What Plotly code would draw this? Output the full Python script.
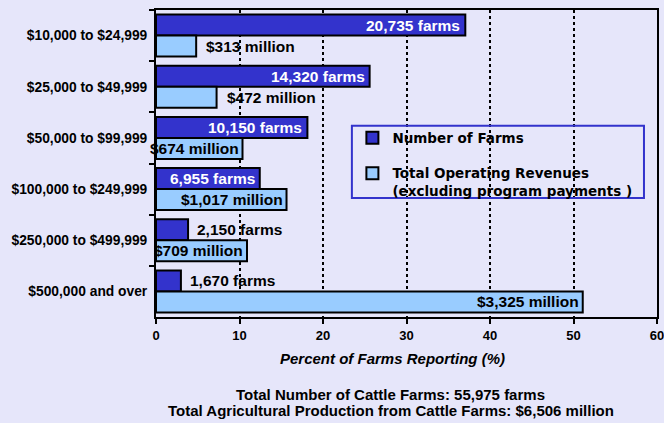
import plotly.graph_objects as go

# Cattle farms by sales class
categories = ["$10,000 to $24,999", "$25,000 to $49,999", "$50,000 to $99,999",
              "$100,000 to $249,999", "$250,000 to $499,999", "$500,000 and over"]
farms = [20735, 14320, 10150, 6955, 2150, 1670]          # number of farms
revenues = [313, 472, 674, 1017, 709, 3325]               # $ million
total_farms = 55975
total_revenue = 6506
x_ticks = [0, 10, 20, 30, 40, 50, 60]

farm_pct = [f / total_farms * 100 for f in farms]
rev_pct = [r / total_revenue * 100 for r in revenues]

BG = "#E6E6FA"
DARK = "#3333CC"
LIGHT = "#99CCFF"
FONT = "Liberation Sans, Arial, sans-serif"

fig = go.Figure()
fig.add_trace(go.Bar(
    y=categories, x=farm_pct, orientation="h", name="Number of Farms",
    marker=dict(color=DARK, line=dict(color="black", width=2)),
    legendgroup="a", hoverinfo="skip",
))
fig.add_trace(go.Bar(
    y=categories, x=rev_pct, orientation="h",
    name="Total Operating Revenues<br>(excluding program payments )",
    marker=dict(color=LIGHT, line=dict(color="black", width=2)),
    legendgroup="b", hoverinfo="skip",
))

# value labels: inside the bar end when the bar is wide enough, otherwise just past it
annotations = []
for cat, pct, n in zip(categories, farm_pct, farms):
    inside = pct >= 10
    annotations.append(dict(
        x=pct, y=cat, xref="x", yref="y", text=f"{n:,} farms", showarrow=False,
        xanchor="right" if inside else "left", xshift=-3 if inside else 7, yshift=10.5,
        font=dict(family=FONT, size=15.5, color="white" if inside else "black", weight="bold"),
    ))
for cat, pct, r in zip(categories, rev_pct, revenues):
    inside = pct >= 10
    annotations.append(dict(
        x=pct, y=cat, xref="x", yref="y", text=f"${r:,} million", showarrow=False,
        xanchor="right" if inside else "left", xshift=-2 if inside else 8, yshift=-10.5,
        font=dict(family=FONT, size=15.5, color="black", weight="bold"),
    ))

annotations.append(dict(
    x=0.472, y=-0.135, xref="paper", yref="paper", text="Percent of Farms Reporting (%)",
    showarrow=False, xanchor="center", yanchor="middle",
    font=dict(family=FONT, size=15, color="black", weight="bold", style="italic"),
))
annotations.append(dict(
    x=0.469, y=-0.254, xref="paper", yref="paper",
    text=f"Total Number of Cattle Farms: {total_farms:,} farms",
    showarrow=False, xanchor="center", yanchor="middle",
    font=dict(family=FONT, size=15, color="black", weight="bold"),
))
annotations.append(dict(
    x=0.469, y=-0.306, xref="paper", yref="paper",
    text=f"Total Agricultural Production from Cattle Farms: ${total_revenue:,} million",
    showarrow=False, xanchor="center", yanchor="middle",
    font=dict(family=FONT, size=15, color="black", weight="bold"),
))

fig.update_layout(
    width=664, height=423,
    margin=dict(l=156, r=7, t=10, b=106, autoexpand=False),
    paper_bgcolor=BG, plot_bgcolor=BG,
    barmode="group", bargap=0.18, bargroupgap=0,
    annotations=annotations,
    showlegend=True,
    legend=dict(
        x=0.392, y=0.634, xanchor="left", yanchor="top",
        bgcolor="rgba(0,0,0,0)", borderwidth=0,
        font=dict(family="DejaVu Sans, sans-serif", size=13.5, color="black", weight="bold"),
        valign="top", tracegroupgap=15, traceorder="grouped",
    ),
    shapes=[dict(
        type="rect", xref="paper", yref="paper",
        x0=0.391, x1=0.974, y0=0.388, y1=0.623,
        line=dict(color=DARK, width=2), fillcolor="rgba(0,0,0,0)",
    )],
    xaxis=dict(
        range=[0, 60], tickvals=x_ticks, showgrid=True, gridcolor="black",
        griddash="dot", gridwidth=1.5, zeroline=False, automargin=False,
        ticklabeloverflow="allow",
        showline=True, linecolor="black", linewidth=2, mirror=True,
        ticks="outside", ticklen=5, tickwidth=1.5, tickcolor="black",
        tickfont=dict(family=FONT, size=13, color="black", weight="bold"),
    ),
    yaxis=dict(
        categoryorder="array", categoryarray=categories, autorange="reversed",
        showgrid=False, zeroline=False, automargin=False,
        showline=True, linecolor="black", linewidth=2, mirror=True,
        ticks="outside", tickson="boundaries", ticklen=5, tickwidth=1.5, tickcolor="black",
        ticklabelstandoff=4,
        tickfont=dict(family=FONT, size=13.8, color="black", weight="bold"),
    ),
)

fig.write_html("out.html")
